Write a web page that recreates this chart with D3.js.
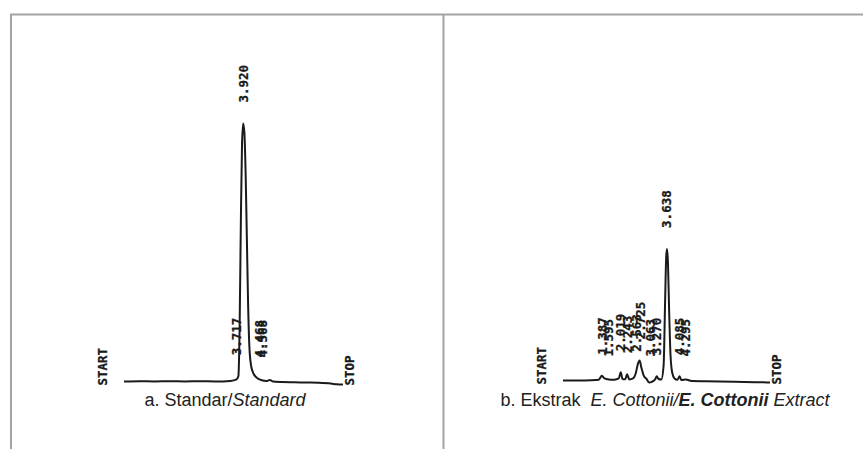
<!DOCTYPE html>
<html>
<head>
<meta charset="utf-8">
<script src="https://cdn.jsdelivr.net/npm/d3@7"></script>
<style>
  body { margin: 0; background: #fff; }
  svg { display: block; }
</style>
</head>
<body>
<div id="chart"></div>
<script>
// Panel a: standard, retention time (min) vs detector signal (relative units)
const timeA = [0, 0.5, 1.0, 1.5, 2.0, 2.5, 3.0, 3.5, 3.70, 3.76, 3.80, 3.84, 3.88, 3.92, 3.96, 4.00, 4.04, 4.08, 4.12, 4.18, 4.26, 4.36, 4.50, 4.70, 4.80, 4.90, 5.2, 5.6, 6.0, 6.4, 6.8, 7.0, 7.2];
const signalA = [0, 0.1, 0, 0.1, 0, 0.1, 0, 0.2, 0.8, 2, 20, 60, 92, 100, 96, 80, 55, 30, 14, 6, 3, 1.5, 0.6, 0.2, 0.6, 0, -0.2, -0.3, -0.4, -0.5, -0.8, -1.1, -1.2];
const peaksA = [3.717, 3.920, 4.468, 4.568];

// Panel b: E. cottonii extract
const timeB = [0, 0.5, 1.0, 1.25, 1.36, 1.45, 1.6, 1.8, 1.95, 2.02, 2.08, 2.18, 2.24, 2.32, 2.45, 2.55, 2.62, 2.68, 2.74, 2.82, 2.92, 3.02, 3.12, 3.22, 3.28, 3.34, 3.44, 3.52, 3.57, 3.61, 3.638, 3.67, 3.71, 3.76, 3.82, 3.90, 4.00, 4.08, 4.14, 4.30, 4.50, 5.0, 6.0, 7.0, 7.24];
const signalB = [0, 0, 0.1, 0.3, 1.8, 0.8, 0.4, 0.3, 0.8, 3.2, 0.6, 0.5, 2.4, 0.4, 0.8, 3, 6.5, 7.8, 5, 2, 0.6, -0.8, -0.4, 0.4, 1.6, 0.6, 0.4, 6, 30, 48, 51, 46, 28, 10, 3, 0.8, 0.3, 1.6, 0.2, 0.4, -0.2, -0.3, -0.5, -0.7, -0.8];
const peaksB = [1.387, 1.595, 2.019, 2.243, 2.563, 2.725, 3.063, 3.270, 3.638, 4.085, 4.295];

const width = 863;
const height = 449;

const svg = d3.select("#chart")
    .append("svg")
    .attr("width", width)
    .attr("height", height);

// frame lines of the figure table
const frame = svg.append("g")
    .attr("stroke", "#a3a3a3")
    .attr("stroke-width", 2);
frame.append("line").attr("x1", 10).attr("x2", width).attr("y1", 14.5).attr("y2", 14.5);
frame.append("line").attr("x1", 11).attr("x2", 11).attr("y1", 14).attr("y2", height);
frame.append("line").attr("x1", 443.5).attr("x2", 443.5).attr("y1", 14).attr("y2", height);

function printText(sel) {
    return sel
        .attr("dy", "0.35em")
        .style("font-family", "'DejaVu Sans Mono', monospace")
        .style("font-weight", "bold")
        .style("font-size", "12.5px")
        .style("fill", "#1a1a1a")
        .style("stroke", "#1a1a1a")
        .style("stroke-width", 0.3);
}

function drawTrace(times, signal, peaks, xRange, baseY) {
    const x = d3.scaleLinear()
        .domain([0, d3.max(times)])
        .range(xRange);
    const y = d3.scaleLinear()
        .domain([0, 100])
        .range([baseY, baseY - 258]);

    const pts = times.map((t, i) => ({ t, v: signal[i] }));
    const g = svg.append("g");

    g.append("path")
        .datum(pts)
        .attr("fill", "none")
        .attr("stroke", "#1a1a1a")
        .attr("stroke-width", 2)
        .attr("stroke-linejoin", "round")
        .attr("d", d3.line()
            .x(d => x(d.t))
            .y(d => y(d.v))
            .curve(d3.curveMonotoneX));

    // retention time labels printed above each peak
    g.selectAll(".rt")
        .data(peaks)
        .enter()
        .append("text")
        .attr("class", "rt")
        .attr("transform", t => {
            const top = d3.max(pts.filter(p => Math.abs(p.t - t) <= 0.05), p => p.v) || 0;
            const yb = Math.min(y(top) - 21, y(0) - 24);
            return `translate(${x(t)},${yb}) rotate(-90)`;
        })
        .call(printText)
        .text(t => t.toFixed(3));

    g.append("text")
        .attr("transform", `translate(${x(0) - 21},${y(0) + 4}) rotate(-90)`)
        .call(printText)
        .text("START");

    g.append("text")
        .attr("transform", `translate(${x(d3.max(times)) + 7},${y(0) + 4}) rotate(-90)`)
        .call(printText)
        .text("STOP");
}

drawTrace(timeA, signalA, peaksA, [124, 343], 381.5);
drawTrace(timeB, signalB, peaksB, [563, 770], 380.5);

// captions
const capStyle = sel => sel
    .attr("text-anchor", "middle")
    .style("font-family", "'Liberation Sans', Arial, sans-serif")
    .style("font-size", "18px")
    .style("fill", "#222");

const capA = svg.append("text").attr("x", 225).attr("y", 406).call(capStyle);
capA.append("tspan").text("a. Standar/");
capA.append("tspan").style("font-style", "italic").text("Standard");

const capB = svg.append("text").attr("x", 665).attr("y", 406).attr("xml:space", "preserve").call(capStyle);
capB.append("tspan").text("b. Ekstrak  ");
capB.append("tspan").style("font-style", "italic").text("E. Cottonii/");
capB.append("tspan").style("font-style", "italic").style("font-weight", "bold").text("E. Cottonii");
capB.append("tspan").style("font-style", "italic").text(" Extract");
</script>
</body>
</html>
